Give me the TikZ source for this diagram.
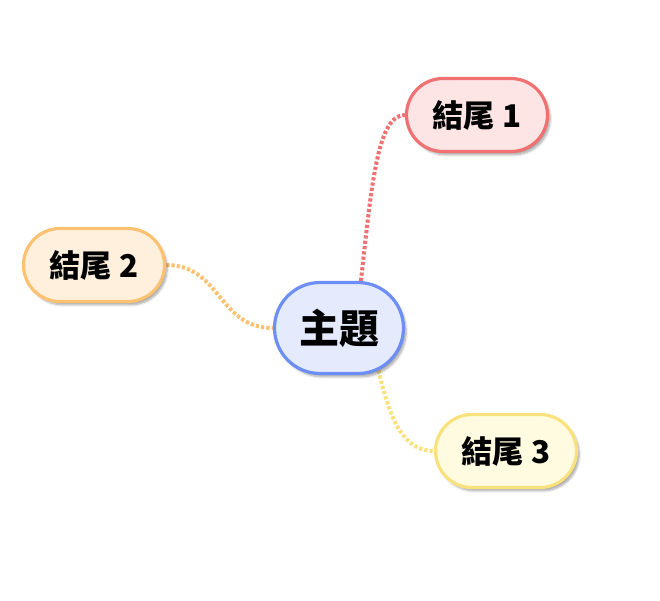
\documentclass[tikz,border=0pt]{standalone}
\usepackage{fontspec}
\newfontfamily\cjk{Noto Sans CJK TC}
\usetikzlibrary{shapes.misc,shadows.blur,backgrounds}
\definecolor{mainB}{HTML}{6C8EF5}
\definecolor{mainF}{HTML}{E5EBFD}
\definecolor{redB}{HTML}{F07171}
\definecolor{redF}{HTML}{FDE5E5}
\definecolor{orgB}{HTML}{FDC172}
\definecolor{orgF}{HTML}{FFF0DE}
\definecolor{yelB}{HTML}{F9E27D}
\definecolor{yelF}{HTML}{FFFBE0}
\begin{document}
\begin{tikzpicture}[x=0.75pt,y=-0.75pt,
  pill/.style={rounded rectangle, line width=2.4pt, inner sep=0pt,
    blur shadow={shadow xshift=2pt, shadow yshift=-2.5pt, shadow blur steps=6, shadow opacity=35}},
  topic/.style={pill, minimum width=96.75pt, minimum height=68.25pt,
    font=\cjk\bfseries\fontsize{30}{34}\selectfont, draw=mainB, fill=mainF},
  leaf/.style={pill, minimum width=105.75pt, minimum height=54.75pt,
    font=\cjk\bfseries\fontsize{23.5}{27}\selectfont},
  link/.style={line width=3pt, dash pattern=on 2.4pt off 1.6pt}
]
\useasboundingbox (0,0) rectangle (660,600);
\node[topic] (main) at (339,328) {主題};
\node[leaf, draw=redB, fill=redF] (n1) at (477,115) {結尾 1};
\node[leaf, draw=orgB, fill=orgF] (n2) at (94,265) {結尾 2};
\node[leaf, draw=yelB, fill=yelF] (n3) at (506,451) {結尾 3};
\begin{pgfonlayer}{background}
\draw[link, draw=redB] (main.65) .. controls +(11,-100) and +(-27,0) .. (n1.west);
\draw[link, draw=orgB] (n2.east) .. controls +(55,0) and +(-55,0) .. (main.west);
\draw[link, draw=yelB] (main.-47) .. controls +(11,48) and +(-31,0) .. (n3.west);
\end{pgfonlayer}
\end{tikzpicture}
\end{document}
